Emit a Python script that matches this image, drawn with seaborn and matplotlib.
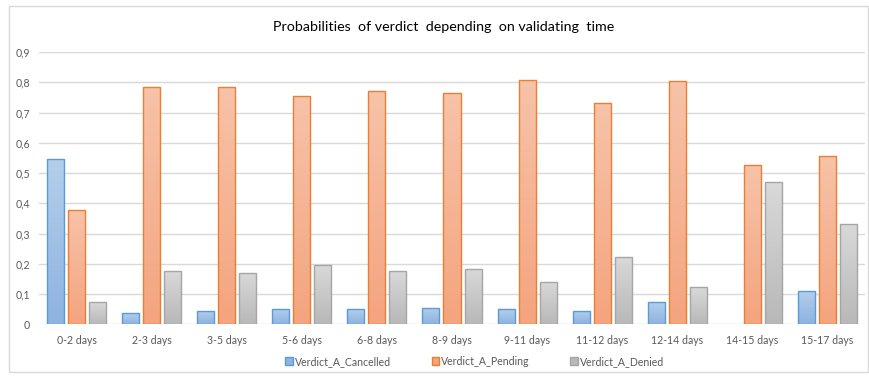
import numpy as np
import pandas as pd
import matplotlib
matplotlib.use("Agg")
import matplotlib.pyplot as plt
import matplotlib.patches as mpatches
from matplotlib.colors import LinearSegmentedColormap
import seaborn as sns

categories = ["0-2 days", "2-3 days", "3-5 days", "5-6 days", "6-8 days", "8-9 days",
              "9-11 days", "11-12 days", "12-14 days", "14-15 days", "15-17 days"]
series_names = ["Verdict_A_Cancelled", "Verdict_A_Pending", "Verdict_A_Denied"]
cancelled = [0.547, 0.036, 0.044, 0.050, 0.049, 0.053, 0.049, 0.044, 0.0725, 0.0, 0.111]
pending = [0.379, 0.785, 0.785, 0.754, 0.772, 0.763, 0.809, 0.731, 0.803, 0.5275, 0.556]
denied = [0.0725, 0.177, 0.171, 0.196, 0.177, 0.182, 0.139, 0.223, 0.122, 0.469, 0.333]
y_ticks = [0, 0.1, 0.2, 0.3, 0.4, 0.5, 0.6, 0.7, 0.8, 0.9]
y_tick_labels = ["0", "0,1", "0,2", "0,3", "0,4", "0,5", "0,6", "0,7", "0,8", "0,9"]
title = "Probabilities  of verdict  depending  on validating  time"

df = pd.DataFrame({
    "interval": categories * 3,
    "verdict": [series_names[0]] * 11 + [series_names[1]] * 11 + [series_names[2]] * 11,
    "prob": cancelled + pending + denied,
})

edge_colors = {series_names[0]: "#5b9bd5", series_names[1]: "#ed7d31", series_names[2]: "#a5a5a5"}
grad_top = {series_names[0]: "#b4cfec", series_names[1]: "#f7c3a9", series_names[2]: "#d9d9d9"}
grad_bot = {series_names[0]: "#8db3e0", series_names[1]: "#f4a47e", series_names[2]: "#b8b8b8"}

sns.set_style("white")
plt.rcParams["font.family"] = ["Lato", "DejaVu Sans"]

fig = plt.figure(figsize=(8.7, 3.79), dpi=100)
ax = fig.add_axes([0.0448, 0.1443, 0.9495, 0.7185])

sns.barplot(data=df, x="interval", y="prob", hue="verdict", hue_order=series_names,
            order=categories, width=0.84, gap=0.19, palette=edge_colors,
            legend=False, ax=ax, zorder=3)

ax.set_ylim(0, 0.9)
ax.set_xlim(-0.5, len(categories) - 0.5)

# Replace flat fills with vertical gradients clipped to each bar
bars_per_series = len(categories)
for i, patch in enumerate(ax.patches):
    name = series_names[i // bars_per_series]
    x0, y0 = patch.get_x(), patch.get_y()
    w, h = patch.get_width(), patch.get_height()
    patch.set_facecolor("none")
    patch.set_edgecolor(edge_colors[name])
    patch.set_linewidth(1.0)
    patch.set_zorder(4)
    if h <= 0:
        patch.set_visible(False)
        continue
    cmap = LinearSegmentedColormap.from_list(name, [grad_bot[name], grad_top[name]])
    grad = np.linspace(0, 1, 256).reshape(-1, 1)
    im = ax.imshow(grad, cmap=cmap, origin="lower", aspect="auto",
                   extent=(x0, x0 + w, y0, y0 + h), zorder=3)
    im.set_clip_path(patch)

ax.set_xlim(-0.5, len(categories) - 0.5)
ax.set_ylim(0, 0.9)

ax.set_yticks(y_ticks)
ax.set_yticklabels(y_tick_labels)
ax.yaxis.grid(True, color="#d9d9d9", linewidth=1.0, zorder=0)
ax.set_axisbelow(True)
for s in ax.spines.values():
    s.set_visible(False)
ax.tick_params(axis="both", length=0, colors="#595959", labelsize=7.6)
ax.tick_params(axis="y", pad=6.5)
ax.tick_params(axis="x", pad=8)
ax.set_xlabel("")
ax.set_ylabel("")

fig.text(0.510, 0.928, title, ha="center", va="center", fontsize=10.25, color="#000000")

handles = [mpatches.Patch(facecolor=grad_bot[n], edgecolor=edge_colors[n], label=n)
           for n in series_names]
fig.legend(handles=handles, loc="center", bbox_to_anchor=(0.5455, 0.047), ncol=3,
           frameon=False, fontsize=7.6, handlelength=0.7, handleheight=0.7,
           handletextpad=0.2, columnspacing=3.85, labelcolor="#595959")

# chart area border
fig.add_artist(mpatches.Rectangle((9 / 870, 7 / 379), 859 / 870, 366 / 379,
                                  transform=fig.transFigure, fill=False,
                                  edgecolor="#d9d9d9", linewidth=1.0))

fig.savefig("out.png", dpi=100)
